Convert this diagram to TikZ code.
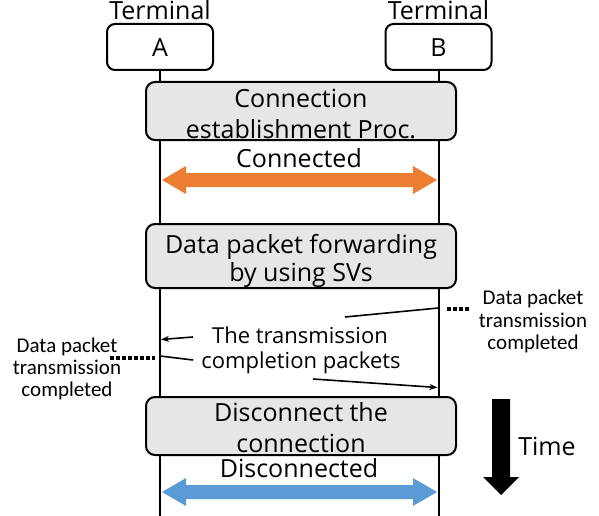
\documentclass[tikz,border=0pt]{standalone}
\usepackage{fontspec}
\setmainfont{Open Sans}
\newfontfamily\sidefont{Carlito}
\usetikzlibrary{arrows.meta}
\definecolor{boxgray}{HTML}{E6E6E6}
\definecolor{conorange}{HTML}{ED7D31}
\definecolor{disblue}{HTML}{5B9BD5}
\tikzset{
  term/.style={draw, line width=2pt, rounded corners=8pt, minimum width=106pt, minimum height=46pt},
  procbox/.style={draw, line width=2pt, fill=boxgray, rounded corners=9pt, minimum width=310pt, minimum height=58pt},
  lbl/.style={font=\fontsize{25}{30}\selectfont, inner sep=0pt, anchor=base},
  mid/.style={font=\fontsize{22}{26}\selectfont, inner sep=0pt, anchor=base},
  side/.style={font=\sidefont\fontsize{21}{22}\selectfont, inner sep=0pt, anchor=base},
  life/.style={line width=2pt},
  msg/.style={line width=1.6pt},
  dots/.style={line width=3.5pt, dash pattern=on 3.5pt off 2.5pt}
}
\begin{document}
\begin{tikzpicture}[x=1pt,y=-1pt]
\useasboundingbox (0,0) rectangle (599,516);
% terminals
\node[term] (tA) at (160,47) {};
\node[term] (tB) at (438.5,47) {};
\node[lbl] (nA) at (160,57) {A};
\node[lbl] (nB) at (438.5,57) {B};
\node[lbl] (lA) at (160,20) {Terminal};
\node[lbl] (lB) at (438.5,20) {Terminal};
\coordinate (eA) at (160,516);
\coordinate (eB) at (438.5,516);
\draw[life] (tA.south) -- (eA);
\draw[life] (tB.south) -- (eB);
% box 1
\node[procbox] (p1) at (301,111) {};
\node[lbl] (p1a) at (301,108) {Connection};
\node[lbl] (p1b) at (301,138) {establishment Proc.};
% connected
\node[lbl] (con) at (299,167) {Connected};
\fill[conorange] (162,180) -- (186,166) -- (186,173) -- (413,173) -- (413,166) -- (437,180) -- (413,194) -- (413,187) -- (186,187) -- (186,194) -- cycle;
% box 2
\node[procbox, minimum height=64pt] (p2) at (301,256) {};
\node[lbl] (p2a) at (301,253) {Data packet forwarding};
\node[lbl] (p2b) at (301,281) {by using SVs};
% messages
\node[mid] (tc1) at (300,343) {The transmission};
\node[mid] (tc2) at (301,368) {completion packets};
\coordinate (m1s) at (438.5,308);
\coordinate (m1e) at (345,317);
\coordinate (m2s) at (193,337);
\coordinate (m2e) at (161,339.5);
\coordinate (m3s) at (160,356);
\coordinate (m3e) at (193,360);
\coordinate (m4s) at (313,379);
\coordinate (m4e) at (437.5,387.5);
\draw[msg] (m1s) -- (m1e);
\draw[msg, -{Stealth[length=8pt,width=6pt]}] (m2s) -- (m2e);
\draw[msg] (m3s) -- (m3e);
\draw[msg, -{Stealth[length=8pt,width=6pt]}] (m4s) -- (m4e);
% dotted leaders
\coordinate (d1s) at (447,309);
\coordinate (d1e) at (470,309);
\coordinate (d2s) at (110,358);
\coordinate (d2e) at (155,358);
\draw[dots] (d1s) -- (d1e);
\draw[dots] (d2s) -- (d2e);
\node[side] (sR1) at (533,304) {Data packet};
\node[side] (sR2) at (533,327) {transmission};
\node[side] (sR3) at (533,349) {completed};
\node[side] (sL1) at (67,352) {Data packet};
\node[side] (sL2) at (67,374) {transmission};
\node[side] (sL3) at (67,396) {completed};
% box 3
\node[procbox] (p3) at (301,426) {};
\node[lbl] (p3a) at (301,421) {Disconnect the};
\node[lbl] (p3b) at (301,452) {connection};
% disconnected
\node[lbl] (dis) at (299,477) {Disconnected};
\fill[disblue] (162,492) -- (186,478) -- (186,485) -- (413,485) -- (413,478) -- (437,492) -- (413,506) -- (413,499) -- (186,499) -- (186,506) -- cycle;
% time arrow
\fill (492,399) -- (510,399) -- (510,477) -- (519,477) -- (501,495) -- (483,477) -- (492,477) -- cycle;
\node[lbl] (time) at (547,455) {Time};
\end{tikzpicture}
\end{document}
